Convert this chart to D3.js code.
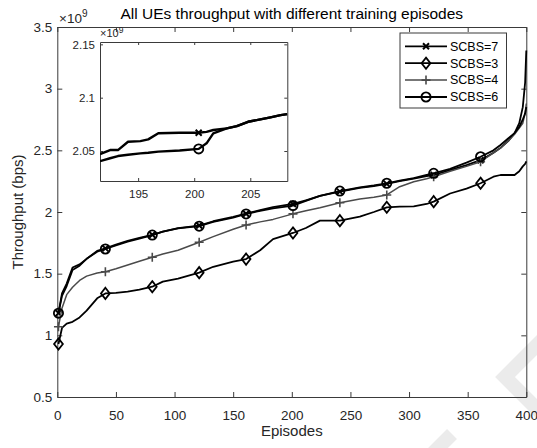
<!DOCTYPE html>
<html>
<head>
<meta charset="utf-8">
<script src="https://cdn.jsdelivr.net/npm/d3@7"></script>
<style>
  body { margin: 0; background: #fff; }
</style>
</head>
<body>
<svg id="chart" width="537" height="448"></svg>
<script>
// sample points along the episode axis (1..400), values in units of 1e9 bps
const episodes = [1, 4, 8, 13, 19, 25, 34, 41, 50, 60, 70, 81, 90, 103, 121, 133, 150, 161, 173, 184,
    201, 212, 224, 241, 258, 270, 281, 292, 304, 315, 321, 335, 349, 361, 372, 378, 385, 390, 394, 397, 399, 400];
const scbs7 = [1.18, 1.34, 1.42, 1.55, 1.575, 1.62, 1.685, 1.705, 1.735, 1.765, 1.79, 1.815, 1.84, 1.87, 1.89, 1.925, 1.96, 1.986, 2.015, 2.04,
    2.065, 2.095, 2.13, 2.165, 2.195, 2.21, 2.228, 2.25, 2.27, 2.29, 2.30, 2.34, 2.38, 2.42, 2.48, 2.52, 2.58, 2.64, 2.72, 2.85, 3.05, 3.31];
const scbs3 = [0.93, 1.06, 1.095, 1.11, 1.145, 1.20, 1.30, 1.34, 1.345, 1.355, 1.37, 1.394, 1.435, 1.46, 1.508, 1.556, 1.597, 1.618, 1.69, 1.78,
    1.83, 1.87, 1.93, 1.93, 1.962, 2.00, 2.038, 2.043, 2.045, 2.065, 2.084, 2.15, 2.19, 2.233, 2.286, 2.30, 2.30, 2.30, 2.33, 2.37, 2.39, 2.41];
const scbs4 = [1.07, 1.22, 1.33, 1.39, 1.445, 1.48, 1.505, 1.516, 1.54, 1.57, 1.60, 1.633, 1.66, 1.69, 1.755, 1.80, 1.86, 1.895, 1.92, 1.94,
    1.985, 2.01, 2.035, 2.075, 2.105, 2.12, 2.138, 2.205, 2.245, 2.27, 2.286, 2.33, 2.37, 2.408, 2.48, 2.517, 2.58, 2.63, 2.68, 2.72, 2.80, 2.88];
const scbs6 = [1.18, 1.32, 1.40, 1.53, 1.565, 1.62, 1.678, 1.70, 1.73, 1.76, 1.785, 1.813, 1.84, 1.868, 1.885, 1.92, 1.955, 1.984, 2.01, 2.03,
    2.052, 2.09, 2.13, 2.17, 2.20, 2.215, 2.233, 2.255, 2.275, 2.30, 2.314, 2.35, 2.40, 2.448, 2.50, 2.543, 2.60, 2.64, 2.69, 2.75, 2.80, 2.85];
const markerEpisodes = [1, 41, 81, 121, 161, 201, 241, 281, 321, 361];

// zoomed inset around episode 200
const insetEpisodes = [191.6, 192.5, 193.2, 194.1, 195.2, 195.9, 196.8, 198.7, 200.4, 201.1, 201.7, 202.9, 203.8, 204.8, 205.9, 206.8, 207.7, 208.3];
const insetScbs7 = [2.0472, 2.0509, 2.0509, 2.0587, 2.0593, 2.0609, 2.0666, 2.0671, 2.0671, 2.068, 2.0697, 2.0712, 2.0734, 2.0774, 2.0797, 2.0816, 2.0837, 2.0846];
const insetScbs6 = [2.0405, 2.0432, 2.0453, 2.0465, 2.0478, 2.0484, 2.0494, 2.0505, 2.052, 2.0572, 2.0666, 2.0712, 2.0734, 2.0774, 2.0797, 2.0816, 2.0837, 2.0846];
const insetMarkerEpisodes = [200.4];

const xTicks = [0, 50, 100, 150, 200, 250, 300, 350, 400];
const yTicks = [0.5, 1, 1.5, 2, 2.5, 3, 3.5];
const insetXTicks = [195, 200, 205];
const insetYTicks = [2.05, 2.1, 2.15];

const FONT = '"Liberation Sans", Arial, Helvetica, sans-serif';
const AXIS_COLOR = '#3a3a3a';
const TEXT_COLOR = '#262626';

const series = [
    {name: 'SCBS=7', values: scbs7, inset: insetScbs7, color: '#000', width: 1.8, marker: 'x'},
    {name: 'SCBS=3', values: scbs3, inset: null, color: '#000', width: 1.8, marker: 'diamond'},
    {name: 'SCBS=4', values: scbs4, inset: null, color: '#4a4a4a', width: 1.5, marker: 'plus'},
    {name: 'SCBS=6', values: scbs6, inset: insetScbs6, color: '#000', width: 1.8, marker: 'circle'}
];

const svg = d3.select('#chart');
svg.append('rect').attr('width', 537).attr('height', 448).attr('fill', '#fff');

// faint watermark chevrons
const watermark = svg.append('g')
    .attr('fill', 'none')
    .attr('stroke', '#ebebeb')
    .attr('stroke-width', 14);
watermark.append('path').attr('d', 'M550,332 L505,377 L550,422');
watermark.append('path').attr('d', 'M418,468 L452,434');

const x = d3.scaleLinear().domain([0, 400]).range([57.3, 526.3]);
const y = d3.scaleLinear().domain([0.5, 3.5]).range([397, 27]);

function styleAxis(g, size) {
    g.attr('font-family', FONT).attr('font-size', size);
    g.selectAll('line, path').attr('stroke', AXIS_COLOR).attr('stroke-width', 1);
    g.selectAll('text').attr('fill', TEXT_COLOR);
}

function drawMarker(g, type, cx, cy, color) {
    const m = g.append('g').attr('transform', `translate(${cx},${cy})`);
    if (type === 'circle') {
        m.append('circle').attr('r', 4.6).attr('fill', 'none').attr('stroke', color).attr('stroke-width', 1.8);
    } else if (type === 'diamond') {
        m.append('path').attr('d', 'M0,-5.6L4.4,0L0,5.6L-4.4,0Z')
            .attr('fill', 'none').attr('stroke', color).attr('stroke-width', 1.8);
    } else if (type === 'plus') {
        m.append('path').attr('d', 'M-4.5,0H4.5M0,-4.5V4.5')
            .attr('stroke', color).attr('stroke-width', 1.6);
    } else {
        m.append('path').attr('d', 'M-3,-3L3,3M-3,3L3,-3')
            .attr('stroke', color).attr('stroke-width', 2);
    }
}

// main axes (ticks inward, boxed)
const fmt = d3.format('~g');
svg.append('g')
    .attr('transform', `translate(0,${y(0.5)})`)
    .call(d3.axisBottom(x).tickValues(xTicks).tickSizeInner(-5).tickSizeOuter(0).tickPadding(13.5).tickFormat(fmt))
    .call(g => styleAxis(g, 13.5));
svg.append('g')
    .attr('transform', `translate(0,${y(3.5)})`)
    .call(d3.axisTop(x).tickValues(xTicks).tickSizeInner(-5).tickSizeOuter(0).tickFormat(''))
    .call(g => styleAxis(g, 13.5));
svg.append('g')
    .attr('transform', `translate(${x(0)},0)`)
    .call(d3.axisLeft(y).tickValues(yTicks).tickSizeInner(-5).tickSizeOuter(0).tickPadding(5).tickFormat(fmt))
    .call(g => styleAxis(g, 13.5));
svg.append('g')
    .attr('transform', `translate(${x(400)},0)`)
    .call(d3.axisRight(y).tickValues(yTicks).tickSizeInner(-5).tickSizeOuter(0).tickFormat(''))
    .call(g => styleAxis(g, 13.5));

// series lines and markers
const line = d3.line().x(d => x(d[0])).y(d => y(d[1]));
const plot = svg.append('g');
series.forEach(s => {
    const pts = episodes.map((e, i) => [e, s.values[i]]);
    plot.append('path')
        .datum(pts)
        .attr('d', line)
        .attr('fill', 'none')
        .attr('stroke', s.color)
        .attr('stroke-width', s.width)
        .attr('stroke-linejoin', 'round');
    pts.filter(p => markerEpisodes.includes(p[0]))
        .forEach(p => drawMarker(plot, s.marker, x(p[0]), y(p[1]), s.color));
});

// exponent label and texts
const expo = svg.append('text')
    .attr('x', 59).attr('y', 22.5)
    .attr('font-family', FONT).attr('font-size', 13.5).attr('fill', TEXT_COLOR)
    .text('\u00d710');
expo.append('tspan').attr('dy', -6).attr('font-size', 10).text('9');

svg.append('text')
    .attr('x', (x(0) + x(400)) / 2).attr('y', 19)
    .attr('text-anchor', 'middle')
    .attr('font-family', FONT).attr('font-size', 15.5).attr('fill', '#000')
    .text('All UEs throughput with different training episodes');

svg.append('text')
    .attr('x', (x(0) + x(400)) / 2).attr('y', 436)
    .attr('text-anchor', 'middle')
    .attr('font-family', FONT).attr('font-size', 15).attr('fill', TEXT_COLOR)
    .text('Episodes');

svg.append('text')
    .attr('transform', `translate(23,${(y(0.5) + y(3.5)) / 2}) rotate(-90)`)
    .attr('text-anchor', 'middle')
    .attr('font-family', FONT).attr('font-size', 15).attr('fill', TEXT_COLOR)
    .text('Throughput (bps)');

// legend
const legend = svg.append('g').attr('transform', 'translate(400,33)');
legend.append('rect')
    .attr('width', 106.5).attr('height', 75)
    .attr('fill', '#fff').attr('stroke', AXIS_COLOR).attr('stroke-width', 1);
series.forEach((s, i) => {
    const ry = 13.3 + i * 16.9;
    legend.append('line')
        .attr('x1', 5).attr('x2', 47).attr('y1', ry).attr('y2', ry)
        .attr('stroke', s.color).attr('stroke-width', s.width);
    drawMarker(legend, s.marker, 26, ry, s.color);
    legend.append('text')
        .attr('x', 50).attr('y', ry).attr('dy', '0.35em')
        .attr('font-family', FONT).attr('font-size', 12.5).attr('fill', '#000')
        .text(s.name);
});

// inset
const x2 = d3.scaleLinear().domain([191.6, 208.3]).range([100, 287.3]);
const y2 = d3.scaleLinear().domain([2.0219, 2.1522]).range([181, 42]);
const inset = svg.append('g');
inset.append('rect')
    .attr('x', x2(191.6)).attr('y', y2(2.1522))
    .attr('width', x2(208.3) - x2(191.6)).attr('height', y2(2.0219) - y2(2.1522))
    .attr('fill', '#fff');
svg.append('clipPath').attr('id', 'inset-clip')
    .append('rect')
    .attr('x', x2(191.6)).attr('y', y2(2.1522))
    .attr('width', x2(208.3) - x2(191.6)).attr('height', y2(2.0219) - y2(2.1522));

inset.append('g')
    .attr('transform', `translate(0,${y2(2.0219)})`)
    .call(d3.axisBottom(x2).tickValues(insetXTicks).tickSizeInner(-3).tickSizeOuter(0).tickPadding(8.8).tickFormat(fmt))
    .call(g => styleAxis(g, 11.5));
inset.append('g')
    .attr('transform', `translate(0,${y2(2.1522)})`)
    .call(d3.axisTop(x2).tickValues(insetXTicks).tickSizeInner(-3).tickSizeOuter(0).tickFormat(''))
    .call(g => styleAxis(g, 11.5));
inset.append('g')
    .attr('transform', `translate(${x2(191.6)},0)`)
    .call(d3.axisLeft(y2).tickValues(insetYTicks).tickSizeInner(-3).tickSizeOuter(0).tickPadding(5).tickFormat(fmt))
    .call(g => styleAxis(g, 11.5));
inset.append('g')
    .attr('transform', `translate(${x2(208.3)},0)`)
    .call(d3.axisRight(y2).tickValues(insetYTicks).tickSizeInner(-3).tickSizeOuter(0).tickFormat(''))
    .call(g => styleAxis(g, 11.5));

const line2 = d3.line().x(d => x2(d[0])).y(d => y2(d[1]));
const insetPlot = inset.append('g').attr('clip-path', 'url(#inset-clip)');
series.filter(s => s.inset).forEach(s => {
    const pts = insetEpisodes.map((e, i) => [e, s.inset[i]]);
    insetPlot.append('path')
        .datum(pts)
        .attr('d', line2)
        .attr('fill', 'none')
        .attr('stroke', s.color)
        .attr('stroke-width', s.width + 0.6)
        .attr('stroke-linejoin', 'round');
    pts.filter(p => insetMarkerEpisodes.includes(p[0]))
        .forEach(p => drawMarker(insetPlot, s.marker, x2(p[0]), y2(p[1]), s.color));
});

const expo2 = inset.append('text')
    .attr('x', 100).attr('y', 37)
    .attr('font-family', FONT).attr('font-size', 11).attr('fill', TEXT_COLOR)
    .text('\u00d710');
expo2.append('tspan').attr('dy', -4.5).attr('font-size', 8.5).text('9');
</script>
</body>
</html>
